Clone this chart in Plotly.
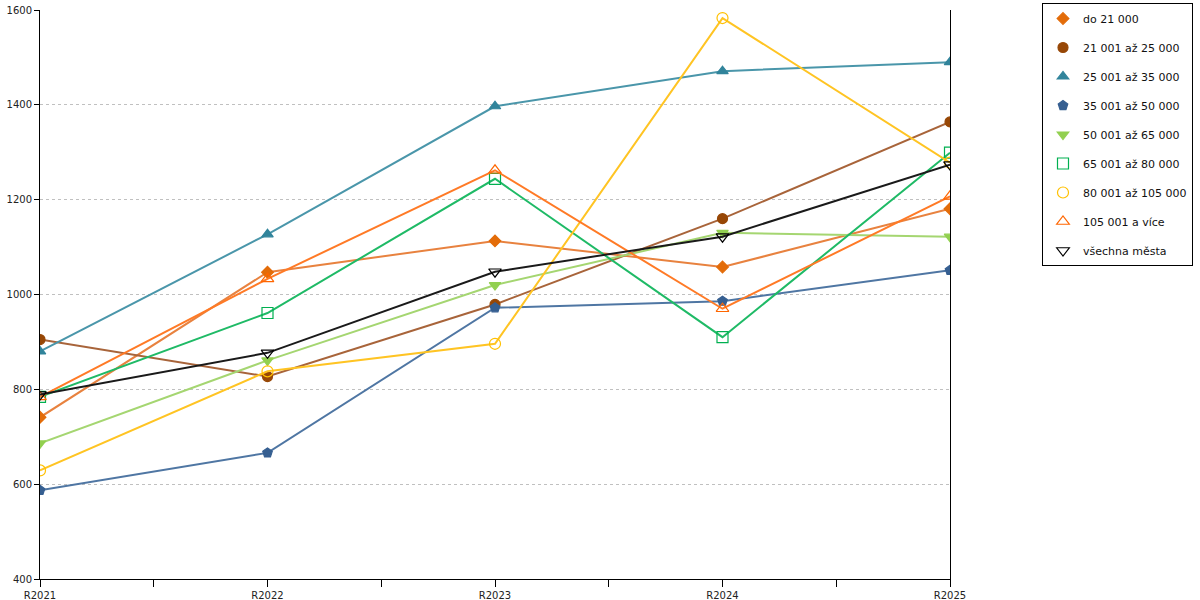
import plotly.graph_objects as go

years = ["R2021", "R2022", "R2023", "R2024", "R2025"]

do_21 = [741, 1047, 1113, 1058, 1181]
s21_25 = [905, 827, 979, 1160, 1364]
s25_35 = [880, 1127, 1397, 1471, 1490]
s35_50 = [587, 666, 972, 986, 1051]
s50_65 = [686, 861, 1020, 1130, 1122]
s65_80 = [784, 961, 1244, 910, 1299]
s80_105 = [629, 838, 896, 1583, 1278]
s105 = [784, 1033, 1262, 970, 1207]
vsechna = [789, 877, 1048, 1122, 1274]

names = ["do 21 000", "21 001 až 25 000", "25 001 až 35 000", "35 001 až 50 000",
         "50 001 až 65 000", "65 001 až 80 000", "80 001 až 105 000", "105 001 a více",
         "všechna města"]

# (values, line colour, marker colour, symbol, size)
series = [
    (do_21, "#e8823f", "#e36c09", "diamond", 9),
    (s21_25, "#a8643a", "#974706", "circle", 10),
    (s25_35, "#4a96aa", "#31849b", "triangle-up", 10),
    (s35_50, "#4f76a3", "#365f91", "pentagon", 10),
    (s50_65, "#a5d671", "#92d050", "triangle-down", 10),
    (s65_80, "#1fba66", "#00b050", "square-open", 11),
    (s80_105, "#ffc423", "#ffc000", "circle-open", 11),
    (s105, "#ff7a26", "#ff6600", "triangle-up-open", 11),
    (vsechna, "#1a1a1a", "#000000", "triangle-down-open", 11),
]

x = list(range(len(years)))

fig = go.Figure()
for i, (vals, lc, mc, sym, sz) in enumerate(series):
    mk = dict(symbol=sym, size=sz, color=mc, line=dict(color=mc, width=1.2))
    fig.add_trace(go.Scatter(
        x=x, y=vals, name=names[i], mode="lines+markers",
        showlegend=False, line=dict(color=lc, width=2), marker=mk,
    ))
    # legend entry: marker only, like the original
    fig.add_trace(go.Scatter(
        x=[None], y=[None], name=names[i], mode="markers",
        legendgroup=str(i), marker=mk,
    ))

tickvals = [i * 0.5 for i in range(9)]
ticktext = [years[i // 2] if i % 2 == 0 else "" for i in range(9)]

fig.update_layout(
    width=1200, height=600,
    margin=dict(l=40, r=250, t=10, b=21, autoexpand=False),
    paper_bgcolor="white", plot_bgcolor="white",
    font=dict(family="DejaVu Sans", size=10, color="#222222"),
    legend=dict(
        xref="container", yref="container", x=1042 / 1200, y=1 - 3 / 600,
        xanchor="left", yanchor="top",
        bordercolor="black", borderwidth=1, bgcolor="white",
        font=dict(family="DejaVu Sans", size=11, color="#111111"),
        tracegroupgap=10, itemwidth=30,
    ),
    xaxis=dict(
        range=[0, 4], tickvals=tickvals, ticktext=ticktext,
        showgrid=False, zeroline=False,
        showline=True, linecolor="black", linewidth=1,
        ticks="outside", ticklen=7, tickcolor="black",
        tickfont=dict(size=10),
    ),
    yaxis=dict(
        range=[400, 1600], dtick=200,
        showgrid=True, gridcolor="#c0c0c0", griddash="3px,3px", gridwidth=1,
        zeroline=False, showline=True, linecolor="black", linewidth=1,
        mirror=True, ticks="outside", ticklen=5, tickcolor="black",
        tickfont=dict(size=10),
    ),
)

# page body has a default 8px margin; drop it so the chart sits at 0,0
fig.write_html("out.html", config={"displayModeBar": False},
               post_script="document.body.style.margin='0';")
